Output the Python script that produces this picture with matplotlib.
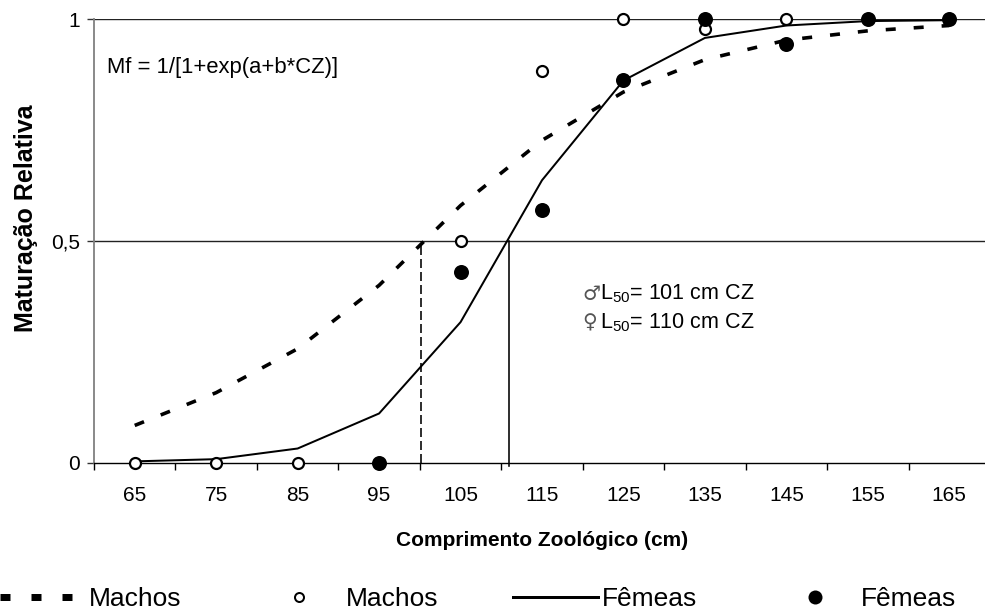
import numpy as np
import matplotlib
matplotlib.use("Agg")
import matplotlib.pyplot as plt
from matplotlib.lines import Line2D

plt.rcParams['font.family'] = ['Liberation Sans', 'DejaVu Sans']
plt.rcParams['mathtext.fontset'] = 'custom'
plt.rcParams['mathtext.rm'] = 'Liberation Sans'

# ---- data ----
cz = [65, 75, 85, 95, 105, 115, 125, 135, 145, 155, 165]
male_fit = [0.084, 0.158, 0.257, 0.400, 0.580, 0.727, 0.836, 0.909, 0.953, 0.974, 0.986]
female_fit = [0.003, 0.008, 0.032, 0.111, 0.317, 0.637, 0.862, 0.958, 0.986, 0.996, 0.998]
male_obs = [0.0, 0.0, 0.0, 0.0, 0.50, 0.883, 1.0, 0.977, 1.0, 1.0, 1.0]
female_obs = [np.nan, np.nan, np.nan, 0.0, 0.43, 0.570, 0.862, 1.0, 0.945, 1.0, 1.0]
male_l50_line = 100.2
female_l50_line = 111.0
xticks_boundaries = [60, 70, 80, 90, 100, 110, 120, 130, 140, 150, 160, 170]
yticks = [0, 0.5, 1]
ytick_labels = ["0", "0,5", "1"]
legend_labels = ["Machos", "Machos", "Fêmeas", "Fêmeas"]
l50_symbols = ["♂", "♀"]
l50_texts = ["$\\mathregular{L_{50}}$= 101 cm CZ", "$\\mathregular{L_{50}}$= 110 cm CZ"]

W, H = 985, 615
fig = plt.figure(figsize=(W / 100, H / 100), dpi=100)
px = 0.72  # points per pixel

left, right, top, bottom = 94, 990, 19.3, 462.7
ax = fig.add_axes([left / W, 1 - bottom / H, (right - left) / W, (bottom - top) / H])
ax.set_xlim(60, 170)
ax.set_ylim(0, 1)

# gridlines
for y in [0.5, 1.0]:
    ax.axhline(y, color='#222222', lw=1.0, zorder=1)

# fitted curves
ax.plot(cz, male_fit, color='black', lw=3.6 * px,
        linestyle=(0, (10 / 3.6, 18 / 3.6)), solid_capstyle='butt',
        dash_capstyle='butt', zorder=3, clip_on=False)
ax.plot(cz, female_fit, color='black', lw=2.0 * px, zorder=3, clip_on=False)

# L50 vertical lines
ax.plot([male_l50_line, male_l50_line], [0, 0.5], color='black', lw=1.6 * px,
        linestyle=(0, (9 / 1.6, 4 / 1.6)), zorder=2, clip_on=False)
ax.plot([female_l50_line, female_l50_line], [-0.008, 0.5], color='black', lw=1.6 * px,
        zorder=2, clip_on=False)

# observed points
ax.plot(cz, male_obs, linestyle='none', marker='o', ms=11 * px, mfc='white',
        mec='black', mew=2.2 * px, zorder=4, clip_on=False)
ax.plot(cz, female_obs, linestyle='none', marker='o', ms=15 * px, mfc='black',
        mec='black', mew=0, zorder=5, clip_on=False)

# axes styling
for s in ['top', 'right']:
    ax.spines[s].set_visible(False)
ax.spines['left'].set_color('#808080')
ax.spines['left'].set_linewidth(1.3)
ax.spines['bottom'].set_color('black')
ax.spines['bottom'].set_linewidth(1.0)

ax.set_yticks(yticks)
ax.set_yticklabels(ytick_labels)
ax.tick_params(axis='y', direction='out', length=7 * px, width=1.0, color='#333333',
               labelsize=15, pad=5)
ax.set_xticks(xticks_boundaries)
ax.set_xticklabels([])
ax.set_xticks(cz, minor=True)
ax.set_xticklabels([str(c) for c in cz], minor=True)
ax.tick_params(axis='x', which='major', direction='out', length=7 * px, width=1.0, color='black')
ax.tick_params(axis='x', which='minor', length=0, labelsize=15, pad=17)

# texts
fig.text(542 / W, 1 - 540 / H, "Comprimento Zoológico (cm)", ha='center', va='center',
         fontsize=15, fontweight='bold')
fig.text(26 / W, 1 - 218 / H, "Maturação Relativa", ha='center', va='center',
         rotation=90, fontsize=18, fontweight='bold')
fig.text(107 / W, 1 - 68 / H, "Mf = 1/[1+exp(a+b*CZ)]", ha='left', va='center', fontsize=15.8)
for i, yy in enumerate([294, 323]):
    fig.text(582 / W, 1 - yy / H, l50_symbols[i], ha='left', va='center', fontsize=14.5,
             color='#555555', family=['DejaVu Sans'])
    fig.text(600 / W, 1 - yy / H, l50_texts[i], ha='left', va='center', fontsize=15.5)

# legend
handles = [
    Line2D([], [], color='black', lw=7 * px, linestyle=(0, (10 / 7, 21 / 7)), dash_capstyle='butt'),
    Line2D([], [], color='black', linestyle='none', marker='o', ms=9 * px, mfc='white', mec='black', mew=2 * px),
    Line2D([], [], color='black', lw=3 * px),
    Line2D([], [], color='black', linestyle='none', marker='o', ms=14 * px, mfc='black', mec='black', mew=0),
]
fs_leg = 19
em = fs_leg / px
fig.legend(handles, legend_labels, loc='center left', bbox_to_anchor=(0, 1 - 599 / H),
           ncol=4, frameon=False, fontsize=fs_leg, borderpad=0, borderaxespad=0,
           handlelength=85 / em, handletextpad=4 / em, columnspacing=75 / em)

fig.savefig("out.png", dpi=100)
